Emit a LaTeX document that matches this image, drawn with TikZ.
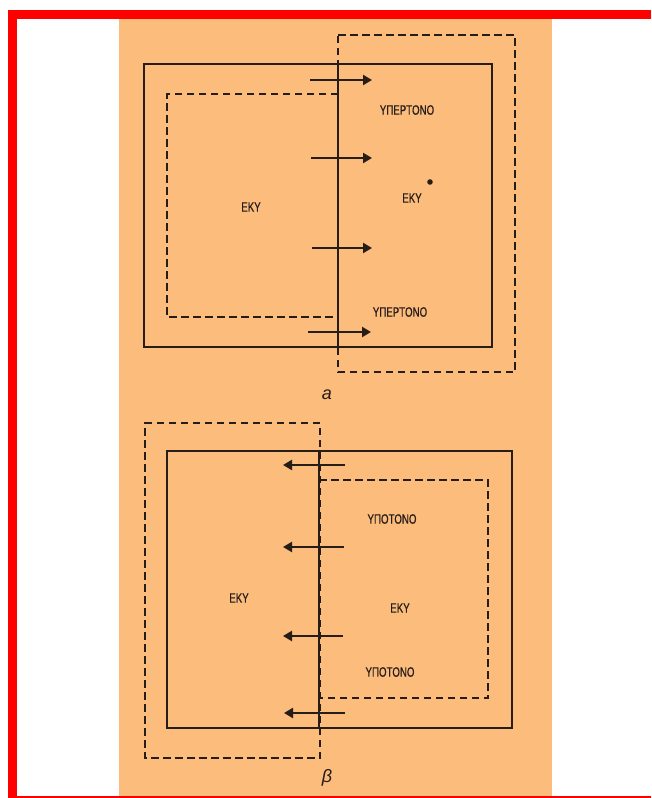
\documentclass[tikz,border=0pt]{standalone}
\usepackage{fontspec}
\setmainfont{Liberation Sans}
\newfontfamily\labfont[FakeStretch=0.72,FakeBold=0.6]{Liberation Sans}
\newfontfamily\capfont{Liberation Sans}
\usetikzlibrary{arrows.meta}
\definecolor{paper}{RGB}{251,188,124}
\definecolor{ink}{RGB}{38,28,24}
\definecolor{frame}{RGB}{255,0,0}
\tikzset{
  solidbox/.style={draw=ink, line width=2.3pt},
  dashbox/.style={draw=ink, line width=2.3pt, dash pattern=on 7.5pt off 4.5pt},
  flow/.style={draw=ink, line width=2.6pt, -{Triangle[length=9pt,width=10pt]}},
  lab/.style={font=\labfont\fontsize{13.5}{14}\selectfont, text=ink, inner sep=0pt},
  figcap/.style={font=\capfont\itshape\fontsize{18}{19}\selectfont, text=ink, inner sep=0pt}
}
\begin{document}
\begin{tikzpicture}[x=1pt,y=-1pt]
\useasboundingbox (0,0) rectangle (651,798);
\fill[white] (0,0) rectangle (651,798);
\fill[paper] (119,19) rectangle (552,798);
% red frame
\fill[frame] (8,10) rectangle (651,19);
\fill[frame] (8,10) rectangle (17,798);
\fill[frame] (8,796) rectangle (651,798);

% ---------- diagram a ----------
\draw[dashbox] (338,35) -- (515,35) -- (515,372) -- (338,372) -- cycle;
\draw[dashbox] (338,94) -- (167,94) -- (167,317) -- (338,317);
\draw[solidbox] (144,64) rectangle (492,347);
\draw[solidbox] (338,64) -- (338,347);
\coordinate (a1s) at (310,80);  \coordinate (a1e) at (372,80);
\coordinate (a2s) at (311,158); \coordinate (a2e) at (372,158);
\coordinate (a3s) at (312,248); \coordinate (a3e) at (372,248);
\coordinate (a4s) at (308,332); \coordinate (a4e) at (371,332);
\draw[flow] (a1s) -- (a1e);
\draw[flow] (a2s) -- (a2e);
\draw[flow] (a3s) -- (a3e);
\draw[flow] (a4s) -- (a4e);
\node[lab] (hyp1) at (407,110) {ΥΠΕΡΤΟΝΟ};
\node[lab] (eky1) at (251,207) {ΕΚΥ};
\node[lab] (eky2) at (412,198) {ΕΚΥ};
\fill[ink] (430,182) circle (2.8pt);
\node[lab] (hyp2) at (400,312) {ΥΠΕΡΤΟΝΟ};
\node[figcap] (capa) at (327,395) {a};

% ---------- diagram b ----------
\draw[dashbox] (320,423) -- (145,423) -- (145,758) -- (320,758) -- cycle;
\draw[dashbox] (319,480) -- (488,480) -- (488,698) -- (319,698);
\draw[solidbox] (167,451) rectangle (512,728);
\draw[solidbox] (319,451) -- (319,728);
\coordinate (b1s) at (345,465); \coordinate (b1e) at (283,465);
\coordinate (b2s) at (344,547); \coordinate (b2e) at (283,547);
\coordinate (b3s) at (343,636); \coordinate (b3e) at (283,636);
\coordinate (b4s) at (345,713); \coordinate (b4e) at (284,713);
\draw[flow] (b1s) -- (b1e);
\draw[flow] (b2s) -- (b2e);
\draw[flow] (b3s) -- (b3e);
\draw[flow] (b4s) -- (b4e);
\node[lab] (hyo1) at (392,519) {ΥΠΟΤΟΝΟ};
\node[lab] (eky3) at (239,598) {ΕΚΥ};
\node[lab] (eky4) at (400,608) {ΕΚΥ};
\node[lab] (hyo2) at (390,672) {ΥΠΟΤΟΝΟ};
\node[figcap] (capb) at (327,778) {β};
\end{tikzpicture}
\end{document}
